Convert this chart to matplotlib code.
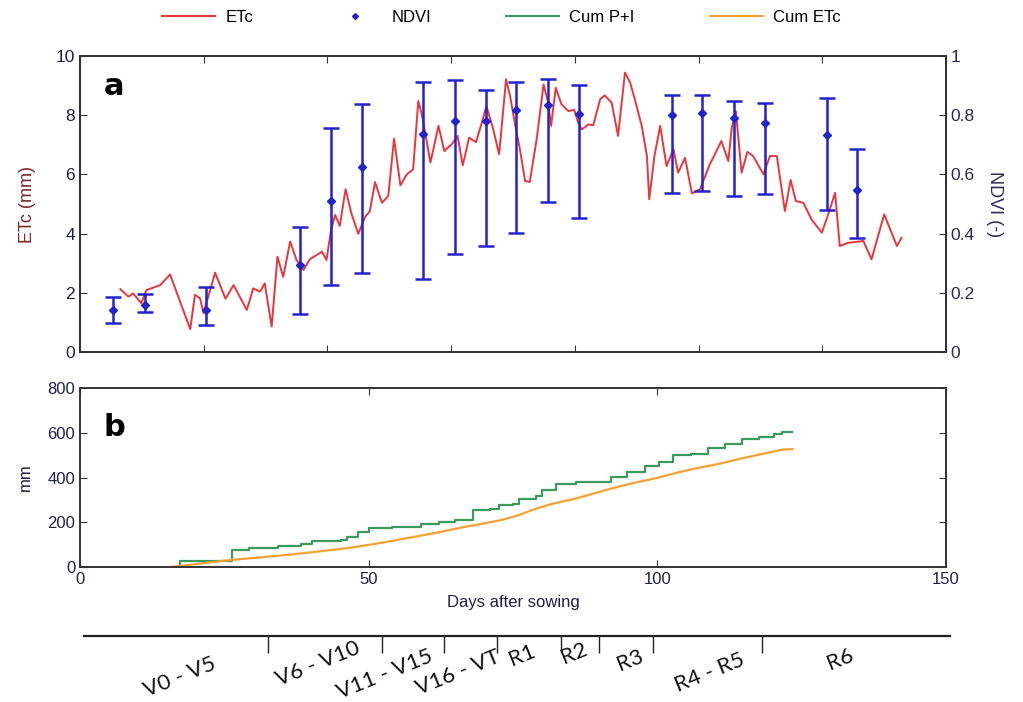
import numpy as np
import matplotlib
matplotlib.use("Agg")
import matplotlib.pyplot as plt
from matplotlib.lines import Line2D

# --- daily crop ET ---
etc_days = [7.0, 8.4, 9.2, 10.6, 11.5, 13.9, 15.6, 19.1, 19.9, 20.8, 21.4, 23.4,
            25.2, 26.6, 28.9, 30.0, 31.2, 32.0, 33.2, 34.2, 35.2, 36.4, 37.5, 38.7,
            39.8, 41.9, 42.7, 43.5, 44.2, 45.0, 46.0, 47.0, 48.2, 49.4, 50.2, 51.1,
            52.3, 53.4, 54.4, 55.5, 56.6, 57.7, 58.6, 59.2, 59.8, 60.7, 62.1, 63.1,
            64.4, 65.4, 66.3, 67.4, 68.6, 69.6, 70.4, 71.5, 72.6, 73.8, 74.5, 75.4,
            76.2, 77.1, 77.9, 79.1, 80.3, 81.1, 81.6, 82.4, 83.4, 84.6, 85.6, 86.3,
            86.9, 88.1, 88.9, 90.1, 90.9, 92.1, 93.2, 94.4, 95.3, 96.1, 97.3, 98.2,
            98.6, 99.5, 100.5, 101.6, 102.8, 103.6, 104.8, 106.0, 107.4, 109.1, 111.1,
            112.3, 112.9, 113.6, 114.6, 115.6, 116.6, 118.4, 119.5, 120.7, 122.1,
            123.1, 124.0, 125.3, 126.7, 128.5, 129.6, 130.8, 131.6, 133.1, 135.7,
            137.1, 139.3, 141.5, 142.3]
etc_vals = [2.12, 1.87, 1.98, 1.65, 2.09, 2.26, 2.62, 0.77, 1.93, 1.81, 1.31, 2.68,
            1.80, 2.26, 1.42, 2.15, 2.04, 2.32, 0.86, 3.22, 2.54, 3.73, 3.11, 2.77,
            3.13, 3.39, 3.11, 4.14, 4.63, 4.26, 5.50, 4.69, 3.99, 4.57, 4.75, 5.74,
            5.04, 5.27, 7.21, 5.63, 6.00, 6.17, 8.48, 8.03, 7.41, 6.40, 7.64, 6.79,
            7.02, 7.30, 6.31, 7.24, 7.09, 7.75, 8.31, 7.58, 6.68, 9.21, 8.65, 7.64,
            6.85, 5.78, 5.74, 7.19, 9.04, 8.42, 7.64, 8.93, 8.37, 8.14, 8.18, 7.75,
            7.52, 7.69, 7.66, 8.54, 8.67, 8.42, 7.30, 9.44, 9.10, 8.54, 7.64, 6.62,
            5.16, 6.62, 7.64, 6.28, 6.85, 6.06, 6.56, 5.36, 5.50, 6.34, 7.13,
            6.45, 7.58, 8.14, 6.06, 6.76, 6.62, 6.00, 6.62, 6.62, 4.76,
            5.81, 5.10, 5.04, 4.48, 4.03, 4.65, 5.38, 3.58, 3.69, 3.75,
            3.13, 4.65, 3.58, 3.86]

# --- NDVI mean with max / min ---
ndvi_days = [5.8, 11.3, 21.8, 38.1, 43.5, 48.8, 59.5, 65.0, 70.3, 75.6, 81.0,
             86.4, 102.5, 107.8, 113.2, 118.7, 129.4, 134.6]
ndvi_mean = [0.142, 0.159, 0.142, 0.294, 0.511, 0.626, 0.738, 0.780, 0.780, 0.818,
             0.833, 0.805, 0.800, 0.806, 0.790, 0.775, 0.732, 0.547]
ndvi_hi = [0.185, 0.195, 0.221, 0.421, 0.758, 0.838, 0.912, 0.918, 0.885, 0.912,
           0.921, 0.901, 0.869, 0.869, 0.849, 0.842, 0.859, 0.685]
ndvi_lo = [0.099, 0.136, 0.091, 0.127, 0.226, 0.268, 0.248, 0.332, 0.358, 0.401,
           0.507, 0.452, 0.538, 0.543, 0.527, 0.534, 0.480, 0.384]

# --- cumulative rain + irrigation and cumulative ETc (panel b) ---
cum_pi_days = [15.9, 17.4, 25.3, 26.3, 29.3, 34.3, 38.2, 40.2, 45.2, 46.2, 48.2,
               50.1, 54.1, 59.1, 62.1, 65.0, 68.0, 71.0, 72.5, 75.0, 76.0, 79.0,
               80.0, 82.4, 85.9, 89.9, 91.9, 94.8, 97.8, 100.3, 102.8, 105.8,
               108.7, 111.7, 114.7, 117.7, 120.2, 121.6, 123.4]
cum_pi_vals = [0, 25, 28, 77, 84, 92, 102, 117, 121, 136, 158, 173, 180, 190, 202,
               210, 254, 258, 279, 283, 305, 316, 342, 372, 379, 382, 401, 424, 450,
               468, 500, 505, 534, 549, 571, 579, 593, 604, 604]
cum_etc_days = [15.9, 22.3, 26.3, 31.3, 36.2, 41.2, 46.2, 50.1, 54.1, 58.1, 62.1,
                66.0, 70.0, 73.0, 76.0, 79.0, 81.9, 85.9, 88.9, 91.9, 95.8, 99.8,
                103.8, 106.7, 110.7, 114.7, 118.7, 121.6, 123.4]
cum_etc_vals = [0, 20, 32, 43, 55, 69, 84, 99, 117, 136, 155, 176, 195, 210, 232,
                261, 283, 306, 328, 350, 375, 397, 424, 441, 461, 486, 508, 524, 527]

# --- growth stages ---
stage_bounds = [31.9, 51.6, 62.3, 71.6, 82.6, 89.2, 98.6, 117.4]
stage_labels = ["V0 - V5", "V6 - V10", "V11 - V15", "V16 - VT", "R1", "R2", "R3",
                "R4 - R5", "R6"]
stage_x = [16.6, 40.5, 52.1, 64.8, 75.9, 84.9, 94.6, 108.4, 131.0]
stage_y = [0.37, 0.58, 0.42, 0.45, 0.71, 0.73, 0.63, 0.45, 0.64]

c_etc = "#e8363d"
c_ndvi = "#2323cc"
c_pi = "#3c9a5c"
c_cetc = "#f5a133"
c_spine = "#333333"
narrow = ["Liberation Sans Narrow", "Liberation Sans", "DejaVu Sans"]

plt.rcParams["font.family"] = narrow

fig = plt.figure(figsize=(10.23, 7.02), dpi=100)

# --- panel a ---
ax = fig.add_axes([0.0782, 0.4986, 0.8465, 0.4216])
ax.plot(etc_days, etc_vals, color=c_etc, lw=1.4)
ax.set_xlim(0, 150)
ax.set_ylim(0, 10)
ax.set_xticks(np.linspace(0, 150, 8))
ax.set_xticklabels([])
ax.set_yticks([0, 2, 4, 6, 8, 10])
ax.tick_params(axis="x", direction="in", top=True, length=5, color=c_spine)
ax.tick_params(axis="y", direction="in", length=5, labelsize=12.5,
               labelcolor="#1f1f4a", color=c_spine)
ax.set_ylabel("ETc (mm)", fontsize=13, color="#7a2626", labelpad=14)
ax.text(0.027, 0.945, "a", transform=ax.transAxes, fontsize=22, fontweight="bold",
        family="DejaVu Sans", va="top")

ax2 = ax.twinx()
yerr = [np.array(ndvi_mean) - np.array(ndvi_lo), np.array(ndvi_hi) - np.array(ndvi_mean)]
ax2.errorbar(ndvi_days, ndvi_mean, yerr=yerr, fmt="D", ms=4, color=c_ndvi,
             ecolor=c_ndvi, elinewidth=1.8, capsize=6, capthick=1.8)
ax2.set_ylim(0, 1)
ax2.set_yticks([0, 0.2, 0.4, 0.6, 0.8, 1])
ax2.set_yticklabels(["0", "0.2", "0.4", "0.6", "0.8", "1"])
ax2.tick_params(axis="y", direction="in", length=5, labelsize=12.5,
                labelcolor="#2a2a55", color=c_spine)
ax2.set_ylabel("NDVI (-)", fontsize=13, color="#2a2a55", rotation=270, labelpad=20)

for a in (ax, ax2):
    for s in a.spines.values():
        s.set_color(c_spine)
        s.set_linewidth(1.4)

# --- panel b ---
bx = fig.add_axes([0.0782, 0.1923, 0.8465, 0.2550])
bx.plot(cum_pi_days, cum_pi_vals, color=c_pi, lw=1.6, drawstyle="steps-post")
bx.plot(cum_etc_days, cum_etc_vals, color=c_cetc, lw=1.6)
bx.set_xlim(0, 150)
bx.set_ylim(0, 800)
bx.set_xticks([0, 50, 100, 150])
bx.set_yticks([0, 200, 400, 600, 800])
bx.tick_params(direction="in", top=True, right=True, length=5, labelsize=12,
               labelcolor="#1f1f4a", color=c_spine)
bx.set_xlabel("Days after sowing", fontsize=12, color="#1f1f4a", labelpad=6)
bx.set_ylabel("mm", fontsize=12, color="#1f1f4a", labelpad=10)
bx.text(0.027, 0.86, "b", transform=bx.transAxes, fontsize=22, fontweight="bold",
        family="DejaVu Sans", va="top")
for s in bx.spines.values():
    s.set_color(c_spine)
    s.set_linewidth(1.4)

# --- growth stage axis ---
sx = fig.add_axes([0.082, 0.0, 0.8465, 0.094])
sx.set_xlim(0, 150)
sx.set_ylim(0, 1)
for k in ("left", "right", "bottom"):
    sx.spines[k].set_visible(False)
sx.spines["top"].set_color("#222222")
sx.spines["top"].set_linewidth(1.6)
sx.set_xticks(stage_bounds)
sx.set_yticks([])
sx.tick_params(axis="x", direction="in", top=True, bottom=False, labeltop=False,
               labelbottom=False, length=12, width=1, color="#222222")
for lab, xs, ys in zip(stage_labels, stage_x, stage_y):
    sx.text(xs, ys, lab, rotation=22, ha="center", va="center", fontsize=16,
            family=["Lato", "DejaVu Sans"], color="#111111")

# --- legend ---
handles = [
    Line2D([], [], color=c_etc, lw=1.5),
    Line2D([], [], color=c_ndvi, marker="D", ms=3, ls="none"),
    Line2D([], [], color=c_pi, lw=1.5),
    Line2D([], [], color=c_cetc, lw=1.5),
]
fig.legend(handles, ["ETc", "NDVI", "Cum P+I", "Cum ETc"], loc="center",
           bbox_to_anchor=(0.49, 0.975), ncol=4, frameon=False, fontsize=12,
           handlelength=3.2, columnspacing=4.5, handletextpad=0.6)

fig.savefig("out.png", dpi=100)
